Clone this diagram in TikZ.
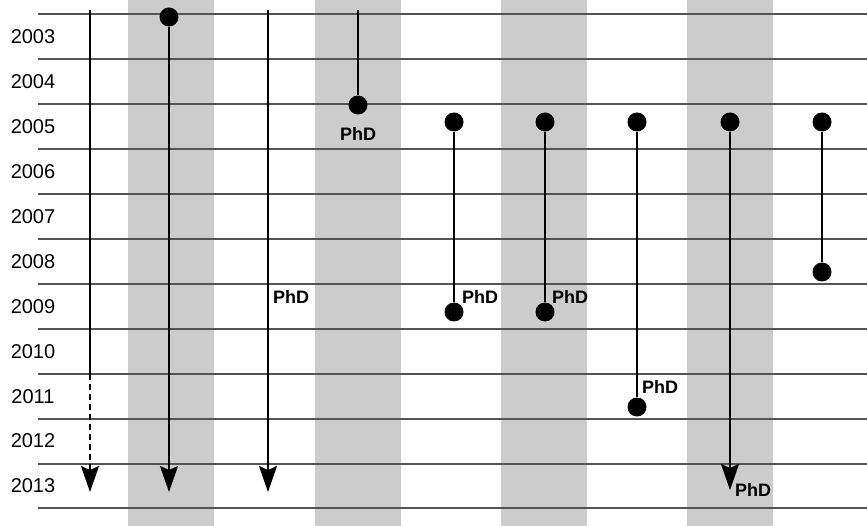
\documentclass[tikz,border=0pt]{standalone}
\usepackage{fontspec}
\setmainfont{Liberation Sans}
\usetikzlibrary{arrows.meta}
\definecolor{bandgray}{gray}{0.80}
\definecolor{gridgray}{gray}{0.33}
\begin{document}
\begin{tikzpicture}[x=1pt,y=-1pt,
  band/.style={fill=bandgray, draw=none},
  gridline/.style={draw=gridgray, line width=2pt},
  track/.style={draw=black, line width=2pt},
  dot/.style={circle, fill=black, minimum size=19pt, inner sep=0pt},
  arr/.style={-{Stealth[length=26pt,width=18pt,inset=4pt]}},
  year/.style={font=\fontsize{20}{24}\selectfont, inner sep=0pt},
  phd/.style={font=\bfseries\fontsize{18}{20}\selectfont, inner sep=0pt}]

\useasboundingbox (0,0) rectangle (867,526);

% shaded columns
\foreach \xa in {128,315,501,687}
  \fill[band] (\xa,0) rectangle ++(86,526);

% year rows
\foreach \i in {0,...,11}
  \draw[gridline] (38,{14.5+44.9*\i}) -- (867,{14.5+44.9*\i});
\foreach \yr [count=\i from 0] in {2003,...,2013}
  \node[year] (y\yr) at (33,{37+44.9*\i}) {\yr};

% column 1: open-ended, dashed continuation
\coordinate (a1) at (90,10);
\coordinate (m1) at (90,374);
\coordinate (e1) at (90,492);
\draw[track] (a1) -- (m1);
\draw[track, arr, dash pattern=on 6pt off 4pt] (m1) -- (e1);

% column 2
\node[dot] (s2) at (169,17) {};
\coordinate (e2) at (169,492);
\draw[track, arr] (s2) -- (e2);

% column 3
\coordinate (a3) at (268,10);
\coordinate (e3) at (268,492);
\draw[track, arr] (a3) -- (e3);
\node[phd, anchor=west] (p3) at (273,297) {PhD};

% column 4
\coordinate (a4) at (358,10);
\node[dot] (f4) at (358,105) {};
\draw[track] (a4) -- (f4);
\node[phd] (p4) at (358,134) {PhD};

% column 5
\node[dot] (s5) at (454,122) {};
\node[dot] (f5) at (454,312) {};
\draw[track] (s5) -- (f5);
\node[phd, anchor=west] (p5) at (462,297) {PhD};

% column 6
\node[dot] (s6) at (545,122) {};
\node[dot] (f6) at (545,312) {};
\draw[track] (s6) -- (f6);
\node[phd, anchor=west] (p6) at (552,297) {PhD};

% column 7
\node[dot] (s7) at (637,122) {};
\node[dot] (f7) at (637,407) {};
\draw[track] (s7) -- (f7);
\node[phd, anchor=west] (p7) at (642,387) {PhD};

% column 8
\node[dot] (s8) at (730,122) {};
\coordinate (e8) at (730,490);
\draw[track, arr] (s8) -- (e8);
\node[phd, anchor=west] (p8) at (735,490) {PhD};

% column 9
\node[dot] (s9) at (822,122) {};
\node[dot] (f9) at (822,272) {};
\draw[track] (s9) -- (f9);

\end{tikzpicture}
\end{document}
